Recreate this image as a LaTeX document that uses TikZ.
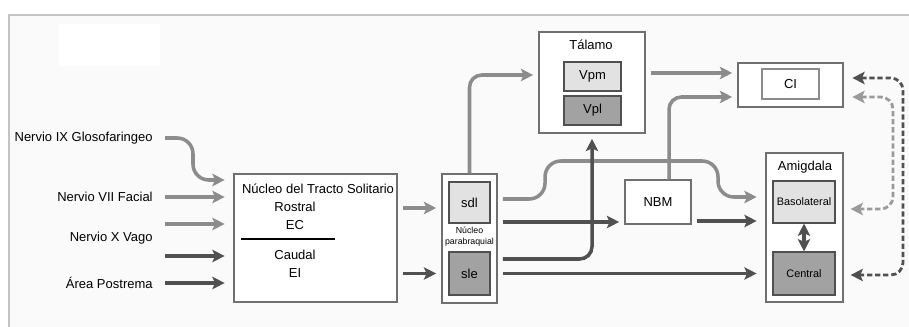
\documentclass[tikz,border=0pt]{standalone}
\usepackage{fontspec}
\setmainfont{Liberation Sans}
\usetikzlibrary{arrows.meta,positioning}
\definecolor{framegray}{HTML}{C4C4C4}
\definecolor{paper}{HTML}{FAFAFA}
\definecolor{litgray}{HTML}{8C8C8C}
\definecolor{drkgray}{HTML}{505050}
\definecolor{dshgray}{HTML}{9A9A9A}
\definecolor{boxline}{HTML}{707070}
\definecolor{palefill}{HTML}{E2E2E2}
\definecolor{midfill}{HTML}{A2A2A2}

\begin{document}
\begin{tikzpicture}[x=0.02cm, y=-0.02cm,
  font=\fontsize{7.4}{8.5}\selectfont,
  sz/.style 2 args={minimum width=#1*0.02cm, minimum height=#2*0.02cm},
  box/.style={draw=boxline, fill=white, line width=0.6pt, inner sep=0},
  pale/.style={box, draw=drkgray, fill=palefill},
  mid/.style={box, draw=drkgray, fill=midfill},
  lbl/.style={anchor=east, inner ysep=0, inner xsep=0.24cm},
  txt/.style={inner sep=0},
  tip/.style={-{Stealth[length=7pt,width=7pt,inset=1.5pt]}},
  lit/.style={draw=litgray, line width=2pt, tip, shorten <=3pt, shorten >=3pt},
  drk/.style={lit, draw=drkgray},
  src/.style={shorten <=0pt, shorten >=5pt},
  dsh/.style={draw=drkgray, line width=1.6pt, dash pattern=on 3pt off 1.6pt, rounded corners=7pt,
    {Stealth[length=7pt,width=7pt,inset=1.5pt]}-{Stealth[length=7pt,width=7pt,inset=1.5pt]},
    shorten <=5pt, shorten >=4pt}
]
\useasboundingbox (0,0) rectangle (909,327);
\fill[paper] (9,15) rectangle (909,327);
\draw[framegray, line width=0.7pt] (9,327) -- (9,15) -- (909,15);
\fill[white] (59,24) rectangle (160,66);

\node[lbl] (glo) at (165,138) {Nervio IX Glosofaringeo};
\node[lbl] (fac) at (165,197) {Nervio VII Facial};
\node[lbl] (vag) at (165,238) {Nervio X Vago};
\node[lbl] (are) at (165,283) {Área Postrema};

\node[box, sz={163}{128}] (nts) at (315.5,238) {};
\node[txt] (ntstit) at (318,189) {Núcleo del Tracto Solitario};
\node[txt] (ros) at (295,207) {Rostral};
\node[txt] (ec) at (295,225) {EC};
\draw[line width=1.3pt] (241,239) -- (335,239);
\node[txt] (cau) at (295,255) {Caudal};
\node[txt] (ei) at (295,273) {EI};

\node[box, sz={55}{129}] (pb) at (469.5,238.5) {};
\node[pale, sz={41}{41}] (sdl) at (469.5,202.5) {sdl};
\node[mid, sz={41}{43}] (sle) at (469.5,273.5) {sle};
\node[txt, font=\fontsize{5}{6.2}\selectfont, align=center] (pbt) at (469.5,237) {Núcleo\\parabraquial};

\node[box, sz={106}{101}] (tal) at (592,82.5) {};
\node[txt] (talt) at (591,45) {Tálamo};
\node[pale, sz={57}{29}] (vpm) at (592.5,76.5) {Vpm};
\node[mid, sz={57}{29}] (vpl) at (592.5,110.5) {Vpl};

\node[box, sz={66}{44}] (nbm) at (658,202) {NBM};

\node[box, sz={105}{44}] (ci) at (790.5,85) {};
\node[box, draw=litgray, sz={57}{30}] (ciin) at (790.5,84) {CI};

\node[box, sz={77}{149}] (amy) at (804.5,227.5) {};
\node[txt] (amyt) at (805,167) {Amigdala};
\node[pale, sz={62}{42}, font=\fontsize{6.2}{7}\selectfont] (bla) at (804,202) {Basolateral};
\node[mid, sz={62}{43}, font=\fontsize{6.2}{7}\selectfont] (cen) at (804,273.5) {Central};

\draw[lit, src, rounded corners=9pt] (glo.east) -| (193,180) -- (nts.west |- 0,180);
\draw[lit, src] (fac.east) -- (nts.west |- fac.east);
\draw[lit, src] (vag.east |- 0,224) -- (nts.west |- 0,224);
\draw[drk, src] (vag.east |- 0,256) -- (nts.west |- 0,256);
\draw[drk, src] (are.east) -- (nts.west |- are.east);

\draw[lit] (nts.east |- 0,208) -- (pb.west |- 0,208);
\draw[drk] (nts.east |- sle) -- (pb.west |- sle);

\draw[lit, rounded corners=7pt, shorten <=0pt] (pb.north) |- (tal.west |- 0,75);
\draw[lit] (tal.east |- 0,73) -- (ci.west |- 0,73);
\draw[lit, rounded corners=9pt, shorten >=5pt] (pb.east |- 0,199) -| (545,161) -| (718,197) -- (amy.west |- 0,197);
\draw[lit, rounded corners=7pt, shorten <=0pt] (669,0 |- nbm.north) |- (ci.west |- 0,97);
\draw[drk] (pb.east |- 0,222) -- (nbm.west |- 0,222);
\draw[drk, shorten >=5pt] (nbm.east |- 0,221) -- (amy.west |- 0,221);
\draw[drk, shorten >=5pt] (pb.east |- sle) -- (amy.west |- sle);
\draw[drk, rounded corners=7pt] (pb.east |- 0,259) -| (tal.south);

\draw[drk, {Stealth[length=7pt,width=7pt,inset=1.5pt]}-{Stealth[length=7pt,width=7pt,inset=1.5pt]},
  shorten <=0pt, shorten >=0pt] (bla.south) -- (cen.north);

\draw[dsh] (ci.east |- 0,78) -| (903,275) -- (amy.east |- 0,275);
\draw[dsh, draw=dshgray] (ci.east |- 0,97) -| (893,209) -- (amy.east |- 0,209);
\end{tikzpicture}
\end{document}
